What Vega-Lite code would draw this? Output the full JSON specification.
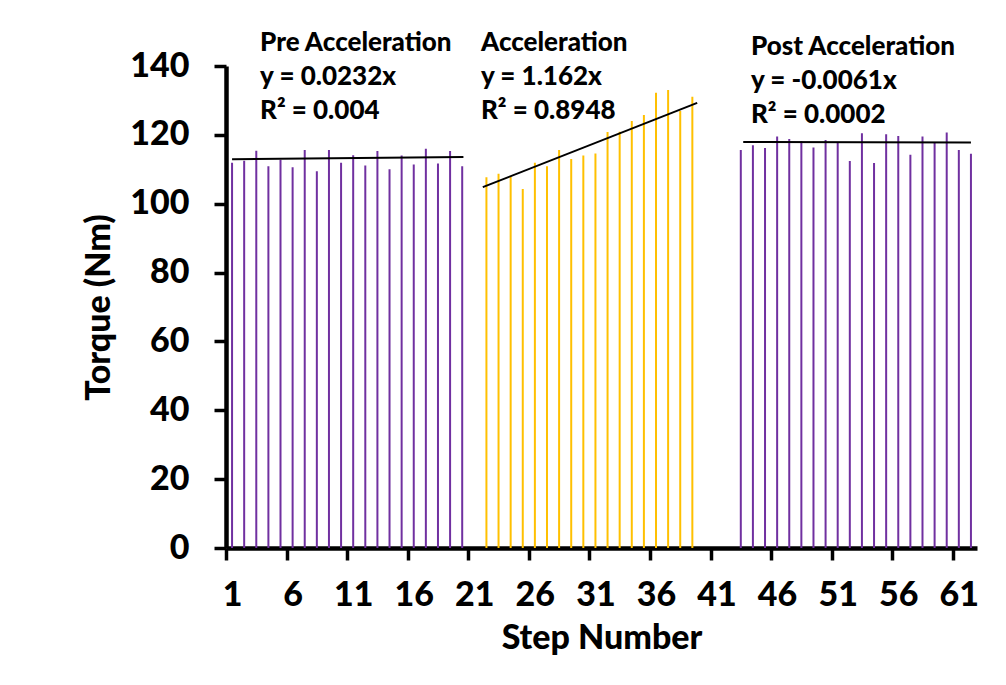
{
  "$schema": "https://vega.github.io/schema/vega-lite/v6.json",
  "width": 751,
  "height": 482,
  "autosize": {"type": "none"},
  "padding": {"left": 226, "top": 66, "right": 29, "bottom": 137},
  "background": "white",
  "config": {
    "view": {"stroke": null},
    "font": "Lato",
    "axis": {
      "domainColor": "black",
      "domainWidth": 4.5,
      "tickColor": "black",
      "tickWidth": 3.5,
      "tickSize": 12,
      "grid": false,
      "labelFont": "Lato",
      "labelFontWeight": 900,
      "labelFontSize": 34,
      "labelColor": "black",
      "titleFont": "Lato",
      "titleFontWeight": 900,
      "titleFontSize": 34,
      "titleColor": "black",
      "labelFlush": false,
      "labelOverlap": false,
      "labelBound": false
    }
  },
  "datasets": {
    "bars": [
      {"phase": "Pre", "step": 1, "torque": 111.9},
      {"phase": "Pre", "step": 2, "torque": 112.5},
      {"phase": "Pre", "step": 3, "torque": 115.4},
      {"phase": "Pre", "step": 4, "torque": 110.9},
      {"phase": "Pre", "step": 5, "torque": 112.8},
      {"phase": "Pre", "step": 6, "torque": 110.6},
      {"phase": "Pre", "step": 7, "torque": 115.6},
      {"phase": "Pre", "step": 8, "torque": 109.4},
      {"phase": "Pre", "step": 9, "torque": 115.6},
      {"phase": "Pre", "step": 10, "torque": 111.9},
      {"phase": "Pre", "step": 11, "torque": 114.1},
      {"phase": "Pre", "step": 12, "torque": 111.1},
      {"phase": "Pre", "step": 13, "torque": 115.3},
      {"phase": "Pre", "step": 14, "torque": 110.0},
      {"phase": "Pre", "step": 15, "torque": 114.0},
      {"phase": "Pre", "step": 16, "torque": 111.4},
      {"phase": "Pre", "step": 17, "torque": 116.0},
      {"phase": "Pre", "step": 18, "torque": 111.7},
      {"phase": "Pre", "step": 19, "torque": 115.3},
      {"phase": "Pre", "step": 20, "torque": 110.9},
      {"phase": "Accel", "step": 22, "torque": 107.7},
      {"phase": "Accel", "step": 23, "torque": 108.7},
      {"phase": "Accel", "step": 24, "torque": 107.8},
      {"phase": "Accel", "step": 25, "torque": 104.3},
      {"phase": "Accel", "step": 26, "torque": 111.9},
      {"phase": "Accel", "step": 27, "torque": 110.9},
      {"phase": "Accel", "step": 28, "torque": 115.6},
      {"phase": "Accel", "step": 29, "torque": 113.0},
      {"phase": "Accel", "step": 30, "torque": 114.0},
      {"phase": "Accel", "step": 31, "torque": 114.6},
      {"phase": "Accel", "step": 32, "torque": 120.8},
      {"phase": "Accel", "step": 33, "torque": 120.9},
      {"phase": "Accel", "step": 34, "torque": 124.0},
      {"phase": "Accel", "step": 35, "torque": 125.8},
      {"phase": "Accel", "step": 36, "torque": 132.2},
      {"phase": "Accel", "step": 37, "torque": 133.0},
      {"phase": "Accel", "step": 38, "torque": 126.9},
      {"phase": "Accel", "step": 39, "torque": 131.1},
      {"phase": "Post", "step": 43, "torque": 115.6},
      {"phase": "Post", "step": 44, "torque": 117.0},
      {"phase": "Post", "step": 45, "torque": 116.2},
      {"phase": "Post", "step": 46, "torque": 119.5},
      {"phase": "Post", "step": 47, "torque": 118.8},
      {"phase": "Post", "step": 48, "torque": 118.2},
      {"phase": "Post", "step": 49, "torque": 116.3},
      {"phase": "Post", "step": 50, "torque": 118.5},
      {"phase": "Post", "step": 51, "torque": 117.8},
      {"phase": "Post", "step": 52, "torque": 112.4},
      {"phase": "Post", "step": 53, "torque": 120.5},
      {"phase": "Post", "step": 54, "torque": 111.8},
      {"phase": "Post", "step": 55, "torque": 120.2},
      {"phase": "Post", "step": 56, "torque": 119.7},
      {"phase": "Post", "step": 57, "torque": 114.2},
      {"phase": "Post", "step": 58, "torque": 119.5},
      {"phase": "Post", "step": 59, "torque": 117.8},
      {"phase": "Post", "step": 60, "torque": 120.7},
      {"phase": "Post", "step": 61, "torque": 115.6},
      {"phase": "Post", "step": 62, "torque": 114.5}
    ],
    "trend": [
      {"phase": "Pre", "step": 1, "torque": 112.9},
      {"phase": "Pre", "step": 20.1, "torque": 113.6},
      {"phase": "Accel", "step": 21.7, "torque": 104.8},
      {"phase": "Accel", "step": 39.4, "torque": 129.3},
      {"phase": "Post", "step": 43.2, "torque": 117.9},
      {"phase": "Post", "step": 62, "torque": 117.8}
    ],
    "labels": [
      {"text": "Pre Acceleration", "step": 3.31, "torque": 144.4},
      {"text": "y = 0.0232x", "step": 3.31, "torque": 134.5},
      {"text": "R² = 0.004", "step": 3.31, "torque": 124.6},
      {"text": "Acceleration", "step": 21.55, "torque": 144.4},
      {"text": "y = 1.162x", "step": 21.55, "torque": 134.5},
      {"text": "R² = 0.8948", "step": 21.55, "torque": 124.6},
      {"text": "Post Acceleration", "step": 43.84, "torque": 143.2},
      {"text": "y = -0.0061x", "step": 43.84, "torque": 133.3},
      {"text": "R² = 0.0002", "step": 43.84, "torque": 123.4}
    ]
  },
  "encoding": {
    "x": {
      "field": "step",
      "type": "quantitative",
      "scale": {"domain": [0.5, 62.5], "nice": false, "zero": false},
      "axis": {
        "title": "Step Number",
        "values": [0.5, 5.5, 10.5, 15.5, 20.5, 25.5, 30.5, 35.5, 40.5, 45.5, 50.5, 55.5, 60.5],
        "labelExpr": "datum.value + 0.5",
        "labelOffset": 6,
        "labelBaseline": "alphabetic",
        "labelPadding": 45,
        "titleBaseline": "alphabetic",
        "titleX": 375.5,
        "titleY": 100,
        "titleAlign": "center"
      }
    },
    "y": {
      "field": "torque",
      "type": "quantitative",
      "scale": {"domain": [0, 140], "nice": false},
      "axis": {
        "title": "Torque (Nm)",
        "values": [0, 20, 40, 60, 80, 100, 120, 140],
        "labelPadding": 25,
        "titleAngle": -90,
        "titleBaseline": "alphabetic",
        "titleAlign": "center",
        "titleX": -117,
        "titleY": 241
      }
    }
  },
  "layer": [
    {
      "data": {"name": "bars"},
      "mark": {"type": "rule", "strokeWidth": 2},
      "encoding": {
        "y2": {"datum": 0},
        "color": {
          "field": "phase",
          "type": "nominal",
          "scale": {"domain": ["Pre", "Accel", "Post"], "range": ["#7030A0", "#FFC000", "#7030A0"]},
          "legend": null
        }
      }
    },
    {
      "data": {"name": "trend"},
      "mark": {"type": "line", "color": "black", "strokeWidth": 2},
      "encoding": {"detail": {"field": "phase"}}
    },
    {
      "data": {"name": "labels"},
      "mark": {"type": "text", "align": "left", "baseline": "alphabetic", "font": "Lato", "fontWeight": 900, "fontSize": 26, "color": "black"},
      "encoding": {"text": {"field": "text"}}
    }
  ]
}
